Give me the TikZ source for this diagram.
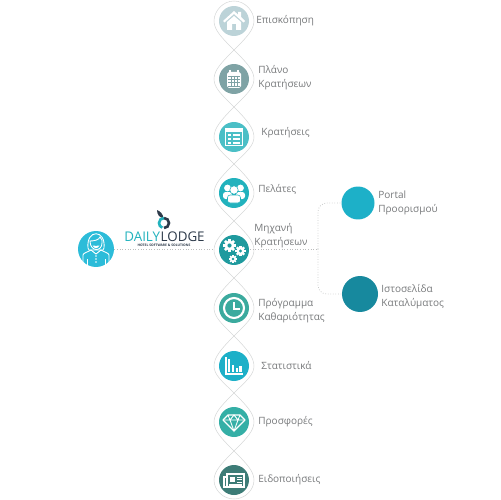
\documentclass[tikz,border=0pt]{standalone}
\usepackage{fontspec}
\setmainfont{Open Sans}
\usetikzlibrary{calc,positioning}
\definecolor{labelgray}{HTML}{77797B}
\definecolor{linegray}{HTML}{D6D8D8}
\definecolor{homecol}{HTML}{BCD3D8}
\definecolor{plancol}{HTML}{7FA3A5}
\definecolor{bookcol}{HTML}{4BBFC6}
\definecolor{guestcol}{HTML}{22B2BD}
\definecolor{enginecol}{HTML}{1F9A9E}
\definecolor{cleancol}{HTML}{3BAA9E}
\definecolor{statcol}{HTML}{1DB0C8}
\definecolor{offercol}{HTML}{35AFA6}
\definecolor{newscol}{HTML}{3D7C77}
\definecolor{usercol}{HTML}{2CBCD9}
\definecolor{sitecol}{HTML}{17899E}
\definecolor{logodark}{HTML}{2D3A4A}
\newcommand{\gearicon}[3]{%
  \foreach \t in {0,45,...,315}
    \fill[white,shift={(#1,#2)},rotate=\t] (-#3*0.28,-#3*1.3) rectangle (#3*0.28,0);
  \fill[white] (#1,#2) circle[radius=#3];
  \fill[enginecol] (#1,#2) circle[radius=#3*0.42];
}
\begin{document}
\begin{tikzpicture}[x=0.02cm, y=-0.02cm,
    every node/.style={font=\fontsize{5.7}{8}\selectfont, text=labelgray, inner sep=0pt},
    icon/.style={circle, minimum size=0.6cm},
    label/.style={anchor=west, align=left},
    strand/.style={draw=linegray, line width=0.3pt},
    dotline/.style={draw=linegray!70!gray, line width=0.5pt, densely dotted},
    branch/.style={draw=linegray!85!gray, line width=0.45pt, densely dotted, rounded corners=5pt}]
    \useasboundingbox (0,0) rectangle (500,500);

    % Waists of the chain
    \coordinate (w0) at (234,1);
    \coordinate (w1) at (234,50);
    \coordinate (w2) at (234,107);
    \coordinate (w3) at (234,164);
    \coordinate (w4) at (234,221);
    \coordinate (w5) at (234,278);
    \coordinate (w6) at (234,336);
    \coordinate (w7) at (234,393);
    \coordinate (w8) at (234,451);
    \coordinate (w9) at (234,499);

    % Nodes
    \node[icon, fill=homecol] (home) at (234,21) {};
    \node[icon, fill=plancol] (plan) at (234,79) {};
    \node[icon, fill=bookcol] (book) at (234,137) {};
    \node[icon, fill=guestcol] (guest) at (234,193) {};
    \node[icon, fill=enginecol] (engine) at (234,250) {};
    \node[icon, fill=cleancol] (clean) at (234,308) {};
    \node[icon, fill=statcol] (stat) at (234,366) {};
    \node[icon, fill=offercol] (offer) at (234,422) {};
    \node[icon, fill=newscol] (news) at (234,480) {};
    \node[circle, fill=usercol, minimum size=0.72cm] (user) at (96,249) {};
    \node[circle, fill=statcol, minimum size=0.66cm] (portal) at (358,203) {};
    \node[circle, fill=sitecol, minimum size=0.72cm] (site) at (360,294) {};

    % Chain outline
    \draw[strand] (w0) .. controls +(-11,0) and +(0,-10) .. ($(home)+(-20,0)$) .. controls +(0,9) and +(-12,-12) .. (w1);
    \draw[strand] (w0) .. controls +(11,0) and +(0,-10) .. ($(home)+(20,0)$) .. controls +(0,9) and +(12,-12) .. (w1);
    \foreach \a/\b/\c in {w1/plan/w2,w2/book/w3,w3/guest/w4,w4/engine/w5,w5/clean/w6,w6/stat/w7,w7/offer/w8} {
        \draw[strand] (\a) .. controls +(-12,12) and +(0,-9) .. ($(\b)+(-20,0)$) .. controls +(0,9) and +(-12,-12) .. (\c);
        \draw[strand] (\a) .. controls +(12,12) and +(0,-9) .. ($(\b)+(20,0)$) .. controls +(0,9) and +(12,-12) .. (\c);
    }
    \draw[strand] (w8) .. controls +(-12,12) and +(0,-9) .. ($(news)+(-20,0)$) .. controls +(0,10) and +(-11,0) .. (w9);
    \draw[strand] (w8) .. controls +(12,12) and +(0,-9) .. ($(news)+(20,0)$) .. controls +(0,10) and +(11,0) .. (w9);

    % Links
    \coordinate (fork) at (318,249);
    \draw[dotline] (user) -- ($(engine)+(-20,-1)$);
    \draw[dotline] ($(engine)+(16,-1)$) -- (fork);
    \draw[branch] (fork) |- (portal);
    \draw[branch] (fork) |- (site);

    % Labels
    \node[label] (homelab) at (256,20.5) {Επισκόπηση};
    \node[label] (planlab) at (258,77.5) {Πλάνο\\Κρατήσεων};
    \node[label] (booklab) at (261,132.5) {Κρατήσεις};
    \node[label] (guestlab) at (258,189.5) {Πελάτες};
    \node[label] (enginelab) at (254,236) {Μηχανή\\Κρατήσεων};
    \node[label] (cleanlab) at (258,310.5) {Πρόγραμμα\\Καθαριότητας};
    \node[label] (statlab) at (261,365.5) {Στατιστικά};
    \node[label] (offerlab) at (258,421.5) {Προσφορές};
    \node[label] (newslab) at (258,479.5) {Ειδοποιήσεις};
    \node[label] (portallab) at (378,202.5) {Portal\\Προορισμού};
    \node[label] (sitelab) at (381,296.5) {Ιστοσελίδα\\Καταλύματος};

    % Home icon
    \begin{scope}[shift={(home.center)}]
        \fill[white] (-11,0) -- (0,-10) -- (4,-6.5) -- (4,-9) -- (7,-9) -- (7,-4) -- (11,0) -- (9.5,1.5) -- (0,-7) -- (-9.5,1.5) -- cycle;
        \fill[white] (-7,1) -- (0,-5) -- (7,1) -- (7,9) -- (2,9) -- (2,3) -- (-2,3) -- (-2,9) -- (-7,9) -- cycle;
    \end{scope}

    % Calendar icon
    \begin{scope}[shift={(plan.center)}]
        \fill[white, rounded corners=1pt] (-7,-7) rectangle (7,9);
        \draw[white, line width=0.7pt] (-4,-9) -- (-4,-6) (4,-9) -- (4,-6);
        \foreach \x in {-3,0,3} \draw[plancol, line width=0.25pt] (\x,-3) -- (\x,7);
        \foreach \y in {-3,0,3.5,7} \draw[plancol, line width=0.25pt] (-6,\y) -- (6,\y);
    \end{scope}

    % List icon
    \begin{scope}[shift={(book.center)}]
        \draw[white, line width=0.8pt] (-8.5,-8.5) rectangle (8.5,8.5);
        \fill[white] (-8.5,-8.5) rectangle (8.5,-5);
        \foreach \y in {-2,2,6} {
            \fill[white] (-6,\y-1) rectangle (-3.5,\y+1);
            \fill[white] (-1.5,\y-1) rectangle (6,\y+1);
        }
    \end{scope}

    % People icon
    \begin{scope}[shift={(guest.center)}]
        \foreach \x in {-6.5,6.5} {
            \fill[white] (\x,-5) circle[radius=3.4];
            \fill[white, rounded corners=1.5pt] (\x-4.5,6) -- (\x-4.5,-1) -- (\x+4.5,-1) -- (\x+4.5,6) -- cycle;
        }
        \fill[white, draw=guestcol, line width=0.3pt] (0,-3) circle[radius=4.2];
        \fill[white, draw=guestcol, line width=0.3pt, rounded corners=1.5pt] (-6.5,10) -- (-6.5,2) -- (6.5,2) -- (6.5,10) -- cycle;
    \end{scope}

    % Gears icon
    \begin{scope}[shift={(engine.center)}]
        \gearicon{-4.5}{-4.5}{5}
        \gearicon{6.5}{1}{4}
        \gearicon{-1}{9}{3}
    \end{scope}

    % Clock icon
    \begin{scope}[shift={(clean.center)}]
        \draw[white, line width=1.2pt] (0,0) circle[radius=10];
        \draw[white, line width=1pt] (0,-6) -- (0,1) -- (6,1);
    \end{scope}

    % Bars icon
    \begin{scope}[shift={(stat.center)}]
        \draw[white, line width=0.8pt] (-8,-9) -- (-8,8) -- (9,8);
        \foreach \x/\h in {-5/-7,-1/-1,3/2,6.5/0} \fill[white] (\x-1.2,6) rectangle (\x+1.2,\h);
    \end{scope}

    % Gem icon
    \begin{scope}[shift={(offer.center)}]
        \draw[white, line width=0.7pt, line join=round] (-6,-7) -- (6,-7) -- (11,-2) -- (0,9) -- (-11,-2) -- cycle;
        \draw[white, line width=0.5pt] (-11,-2) -- (11,-2) (-4,-2) -- (0,9) -- (4,-2) (-6,-7) -- (-4,-2) -- (0,-7) -- (4,-2) -- (6,-7);
    \end{scope}

    % Paper icon
    \begin{scope}[shift={(news.center)}]
        \draw[white, line width=0.6pt] (-7,-6) rectangle (10,7);
        \draw[white, line width=0.6pt] (-7,-3) -- (-10,-3) -- (-10,7) -- (-7,7);
        \fill[white] (-4.5,-3.5) rectangle (1,2);
        \foreach \y in {-3,-0.5,2} \draw[white, line width=0.4pt] (3,\y) -- (8,\y);
        \foreach \y in {4,5.5} \draw[white, line width=0.4pt] (-5,\y) -- (8,\y);
    \end{scope}

    % Person icon
    \begin{scope}[shift={(user.center)}, line width=0.5pt]
        \draw[white] (-8,-1) .. controls (-10,-20) and (10,-20) .. (8,-1) -- (7,1) -- (-7,1) -- cycle;
        \fill[usercol, draw=white] (-6,-8) .. controls (-2,-8) and (3,-9) .. (4,-12) .. controls (6,-10) and (6.5,-8) .. (6,-6) .. controls (6,3) and (-6,3) .. (-6,-8) -- cycle;
        \fill[white] (-3.5,-3.5) .. controls (-1,-3) and (1,-3) .. (3.5,-3.5) .. controls (2,0) and (-2,0) .. (-3.5,-3.5);
        \draw[white] (-13,15) -- (-13,6) .. controls (-13,4) and (-8,3) .. (-5,1) -- (0,5) -- (5,1) .. controls (8,3) and (13,4) .. (13,6) -- (13,15);
        \draw[white] (-9,10) -- (-9,17) (9,10) -- (9,17);
        \foreach \y in {7,10,13} \fill[white] (0,\y) circle[radius=0.9];
    \end{scope}

    % Logo
    \fill[logodark] (157,210) .. controls (160,211) and (163,214) .. (163.5,218) .. controls (160,218) and (157,215) .. cycle;
    \draw[guestcol, line width=1.5pt] (164,218) arc[start angle=-90, end angle=-250, radius=5];
    \draw[logodark, line width=1.5pt] (164,228) arc[start angle=90, end angle=-90, radius=5];
    \node[anchor=west, font=\fontsize{7.6}{8}\selectfont, text=guestcol] (daily) at (124,237) {DAILY};
    \node[font=\fontsize{7.6}{8}\selectfont, text=logodark, right=0pt of daily] (lodge) {LODGE};
    \node[font=\fontsize{1.9}{2}\selectfont\bfseries, text=logodark] (motto) at (164,245.5) {HOTEL SOFTWARE \& SOLUTIONS};
\end{tikzpicture}
\end{document}
